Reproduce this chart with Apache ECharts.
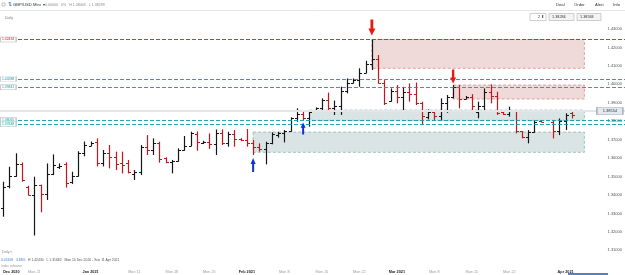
<!DOCTYPE html>
<html><head><meta charset="utf-8">
<script src="https://cdn.jsdelivr.net/npm/echarts@6/dist/echarts.min.js"></script>
<style>html,body{margin:0;padding:0;background:#fff;}#c{width:625px;height:275px;}</style>
</head><body><div id="c"></div>
<script>
// ---- data ----
const dates = ['2020-12-15','2020-12-16','2020-12-17','2020-12-18','2020-12-20','2020-12-21','2020-12-22','2020-12-23','2020-12-24','2020-12-27',
'2020-12-28','2020-12-29','2020-12-30','2020-12-31','2021-01-03','2021-01-04','2021-01-05','2021-01-06','2021-01-07','2021-01-08',
'2021-01-10','2021-01-11','2021-01-12','2021-01-13','2021-01-14','2021-01-15','2021-01-17','2021-01-18','2021-01-19','2021-01-20',
'2021-01-21','2021-01-22','2021-01-24','2021-01-25','2021-01-26','2021-01-27','2021-01-28','2021-01-29','2021-01-31','2021-02-01',
'2021-02-02','2021-02-03','2021-02-04','2021-02-05','2021-02-07','2021-02-08','2021-02-09','2021-02-10','2021-02-11','2021-02-12',
'2021-02-14','2021-02-15','2021-02-16','2021-02-17','2021-02-18','2021-02-19','2021-02-21','2021-02-22','2021-02-23','2021-02-24',
'2021-02-25','2021-02-26','2021-02-28','2021-03-01','2021-03-02','2021-03-03','2021-03-04','2021-03-05','2021-03-07','2021-03-08',
'2021-03-09','2021-03-10','2021-03-11','2021-03-12','2021-03-14','2021-03-15','2021-03-16','2021-03-17','2021-03-18','2021-03-19',
'2021-03-21','2021-03-22','2021-03-23','2021-03-24','2021-03-25','2021-03-26','2021-03-28','2021-03-29','2021-03-30','2021-03-31',
'2021-04-01','2021-04-02'];
const opens = [1.3327,1.3449,1.3503,1.3570,1.3445,1.3402,1.3452,1.3404,1.3514,1.3550,
1.3568,1.3468,1.3505,1.3628,1.3668,1.3685,1.3571,1.3626,1.3605,1.3571,
1.3575,1.3512,1.3525,1.3662,1.3646,1.3684,1.3598,1.3580,1.3585,1.3644,
1.3668,1.3730,1.3684,1.3688,1.3676,1.3735,1.3680,1.3730,1.3705,1.3700,
1.3680,1.3660,1.3650,1.3680,1.3725,1.3735,1.3745,1.3815,1.3840,1.3815,
1.3855,1.3870,1.3915,1.3870,1.3880,1.3965,1.4010,1.4025,1.4060,1.4110,
1.4140,1.4005,1.3910,1.3965,1.3930,1.3960,1.3945,1.3900,1.3825,1.3850,
1.3830,1.3900,1.3930,1.3985,1.3922,1.3930,1.3850,1.3885,1.3960,1.3935,
1.3848,1.3838,1.3860,1.3745,1.3715,1.3740,1.3800,null,1.3795,1.3745,
1.3800,1.3845];
const highs = [1.3472,1.3553,1.3626,1.3576,1.3450,1.3499,1.3456,1.3571,1.3620,1.3571,
1.3577,1.3526,1.3637,1.3690,1.3690,1.3707,1.3644,1.3671,1.3635,1.3635,
1.3590,1.3535,1.3671,1.3725,1.3707,1.3689,1.3604,1.3590,1.3653,1.3720,
1.3743,1.3745,1.3694,1.3734,1.3755,1.3756,1.3743,1.3752,1.3708,1.3758,
1.3698,1.3680,1.3689,1.3740,1.3743,1.3752,1.3821,1.3870,1.3861,1.3861,
1.3875,1.3924,1.3955,1.3912,1.3987,1.4032,1.4032,1.4087,1.4128,1.4243,
1.4159,1.4023,1.3978,1.3996,1.3987,1.4005,1.4010,1.3906,1.3864,1.3861,
1.3924,1.3942,1.3996,1.3996,1.3937,1.3947,1.3906,1.3978,1.4000,1.3960,
1.3850,1.3879,1.3861,1.3747,1.3752,1.3806,1.3806,null,1.3806,1.3815,
1.3843,1.3855];
const lows = [1.3282,1.3436,1.3499,1.3472,1.3398,1.3180,1.3306,1.3373,1.3508,1.3541,
1.3440,1.3460,1.3500,1.3610,1.3665,1.3555,1.3555,1.3544,1.3535,1.3517,
1.3517,1.3481,1.3508,1.3617,1.3617,1.3575,1.3572,1.3517,1.3581,1.3640,
1.3665,1.3640,1.3676,1.3650,1.3617,1.3671,1.3662,1.3662,1.3692,1.3662,
1.3617,1.3635,1.3566,1.3675,1.3711,1.3685,1.3743,1.3797,1.3806,1.3770,
1.3852,1.3861,1.3861,1.3834,1.3834,1.3951,1.4005,1.3987,1.4060,1.4078,
1.4005,1.3888,1.3906,1.3897,1.3861,1.3906,1.3888,1.3779,1.3810,1.3807,
1.3807,1.3846,1.3924,1.3870,1.3919,1.3861,1.3816,1.3861,1.3897,1.3834,
1.3834,1.3825,1.3734,1.3707,1.3680,1.3738,1.3794,null,1.3707,1.3725,
1.3752,1.3815];
const closes = [1.3445,1.3503,1.3566,1.3481,1.3402,1.3452,1.3404,1.3514,1.3562,1.3556,
1.3467,1.3505,1.3628,1.3670,1.3680,1.3571,1.3626,1.3605,1.3570,1.3560,
1.3525,1.3525,1.3662,1.3646,1.3684,1.3593,1.3580,1.3585,1.3644,1.3668,
1.3735,1.3690,1.3688,1.3676,1.3735,1.3680,1.3730,1.3705,1.3700,1.3680,
1.3660,1.3650,1.3680,1.3730,1.3735,1.3745,1.3815,1.3840,1.3815,1.3850,
1.3870,1.3915,1.3870,1.3880,1.3965,1.4010,1.4025,1.4060,1.4110,1.4140,
1.4010,1.3897,1.3965,1.3930,1.3960,1.3945,1.3897,1.3830,1.3850,1.3830,
1.3900,1.3930,1.3985,1.3920,1.3930,1.3880,1.3885,1.3960,1.3935,1.3845,
1.3838,1.3860,1.3745,1.3715,1.3740,1.3795,1.3797,null,1.3745,1.3800,
1.3835,1.3835];
const xTickIdx  = [0,5,14,21,27,33,39,45,51,57,63,69,75,81,90];
const xTickText = ['Dec 2020','Mon 21','Jan 2021','Mon 11','Mon 18','Mon 25','Feb 2021','Mon 8','Mon 15','Mon 22','Mar 2021','Mon 8','Mon 15','Mon 22','Apr 2021'];
const yMin = 1.30, yMax = 1.4322, yStep = 0.01;
const levelPrices = [1.42434, 1.40288, 1.39841, 1.38065, 1.37848];
const levelKind   = ['red','teal','teal','teal','teal'];
const lastPrice = 1.38554;
const zoneStart  = [59, 72, 49, 40];
const zoneEnd    = [93, 93, 93, 93];
const zoneTop    = [1.42434, 1.39963, 1.38607, 1.37413];
const zoneBottom = [1.40870, 1.39204, 1.38049, 1.36313];
const zoneKind   = ['red','red','grey','grey'];
const arrowIdx = [59, 72, 40, 48];
const arrowDir = ['down','down','up','up'];

// ---- build ----
const N = 100;
const cats = dates.slice();
for (let k = dates.length; k < N; k++) cats.push('pad' + k);
const ohlc = dates.map((d, i) => opens[i] == null ? [i, '-', '-', '-', '-'] : [i, opens[i], highs[i], lows[i], closes[i]]);

const RED = '#c8141c', UP = '#151515';
const lineColor = {red: '#e0141e', teal: '#0f9aa0'};
const zoneStyle = {
  red:  {color: 'rgba(200,120,120,0.28)', borderColor: 'rgba(205,95,95,0.7)', borderWidth: 0.8, borderType: [3,2]},
  grey: {color: 'rgba(170,190,190,0.42)', borderColor: 'rgba(110,160,160,0.75)', borderWidth: 0.8, borderType: [3,2]}
};
const FONT = 'Liberation Sans, Arial, sans-serif';

function renderItem(params, api) {
  const i = api.value(0);
  const o = api.value(1), h = api.value(2), l = api.value(3), c = api.value(4);
  if (isNaN(o)) return null;
  const pH = api.coord([i, h]), pL = api.coord([i, l]), pO = api.coord([i, o]), pC = api.coord([i, c]);
  const x = Math.round(pH[0]) + 0.5;
  const color = c >= o ? UP : RED;
  const yo = Math.round(pO[1]) + 0.5, yc = Math.round(pC[1]) + 0.5;
  return {type: 'group', children: [
    {type: 'line', shape: {x1: x, y1: pH[1], x2: x, y2: pL[1]}, style: {stroke: color, lineWidth: 1.2}},
    {type: 'line', shape: {x1: x - 2.5, y1: yo, x2: x, y2: yo}, style: {stroke: color, lineWidth: 1}},
    {type: 'line', shape: {x1: x, y1: yc, x2: x + 2.5, y2: yc}, style: {stroke: color, lineWidth: 1}}
  ]};
}

const downArrow = 'path://M3,0L7,0L7,9L10,9L5,16L0,9L3,9Z';
const upArrow = 'path://M5,0L10,7L7,7L7,16L3,16L3,7L0,7Z';
const arrowSize = [[7,16],[6,14],[5,14],[5,12]];
const arrowOff = [-12, -8.5, 10, 8.5];

const markPoints = [];
levelPrices.forEach((p, k) => markPoints.push({
  coord: [0, p], symbol: 'rect', symbolSize: [16, 5], symbolOffset: [5, 0],
  itemStyle: {color: '#fff', borderColor: '#b5b5b5', borderWidth: 0.6},
  label: {show: true, position: 'inside', formatter: p.toFixed(5), fontSize: 3.4, fontFamily: FONT, color: lineColor[levelKind[k]]}
}));
markPoints.push({
  coord: [N - 1, lastPrice], symbol: 'rect', symbolSize: [26, 7], symbolOffset: [-12, 0],
  itemStyle: {color: '#e4e9ef', borderColor: '#98a6b6', borderWidth: 0.7},
  label: {show: true, position: 'inside', formatter: lastPrice.toFixed(5), fontSize: 4, fontFamily: FONT, color: '#2b3b50'}
});
arrowIdx.forEach((i, k) => markPoints.push({
  coord: [i, arrowDir[k] === 'down' ? highs[i] : lows[i]],
  symbol: arrowDir[k] === 'down' ? downArrow : upArrow,
  symbolSize: arrowSize[k], symbolOffset: [0, arrowOff[k]],
  itemStyle: {color: arrowDir[k] === 'down' ? '#e8190f' : '#1230e0'},
  label: {show: false}
}));

const chart = echarts.init(document.getElementById('c'), null, {renderer: 'canvas'});
chart.setOption({
  backgroundColor: '#fff',
  animation: false,
  textStyle: {fontFamily: FONT},
  grid: {left: 0, right: 0, top: 25, bottom: 6.3, containLabel: false, outerBoundsMode: 'none'},
  xAxis: {
    type: 'category', data: cats, boundaryGap: true,
    axisLine: {show: false}, axisTick: {show: false}, splitLine: {show: false},
    axisLabel: {
      interval: (idx) => xTickIdx.indexOf(idx) >= 0,
      formatter: (v, idx) => {
        const k = xTickIdx.indexOf(idx);
        if (k < 0) return '';
        const t = xTickText[k];
        return t.indexOf('Mon') === 0 ? '{d|' + t + '}' : '{m|' + t + '}';
      },
      rich: {
        d: {fontSize: 3.8, color: '#9a9a9a', fontFamily: FONT},
        m: {fontSize: 3.8, color: '#222', fontWeight: 'bold', fontFamily: FONT}
      },
      margin: 1, hideOverlap: false, alignMinLabel: 'left'
    }
  },
  yAxis: {
    type: 'value', position: 'right', min: yMin, max: yMax, interval: yStep,
    axisLine: {show: false}, axisTick: {show: false}, splitLine: {show: false},
    axisLabel: {inside: true, margin: 3, fontSize: 4, color: '#555', fontFamily: FONT,
      formatter: (v) => v.toFixed(5), showMinLabel: false, showMaxLabel: false}
  },
  series: [
    {
      type: 'line', data: [], z: 1, silent: true,
      markArea: {silent: true, data: zoneStart.map((s, k) => [
        {xAxis: s, yAxis: zoneTop[k], itemStyle: zoneStyle[zoneKind[k]]},
        {xAxis: zoneEnd[k], yAxis: zoneBottom[k]}
      ])},
      markLine: {silent: true, precision: 5, symbol: ['none','none'], label: {show: false}, animation: false,
        data: [{yAxis: lastPrice, lineStyle: {color: '#e2e6ea', type: 'solid', width: 2}}]}
    },
    {
      type: 'custom', name: 'GBP/USD', renderItem: renderItem, data: ohlc, z: 3,
      dimensions: ['i','open','high','low','close'],
      encode: {x: 0, y: [1,2,3,4]},
      markLine: {silent: true, precision: 5, symbol: ['none','none'], label: {show: false}, animation: false,
        data: levelPrices.map((p, k) => ({yAxis: p, lineStyle: {color: lineColor[levelKind[k]], type: [4,2], width: 1.1, opacity: 0.9}}))},
      markPoint: {silent: true, animation: false, data: markPoints}
    }
  ],
  graphic: [
    {type: 'line', shape: {x1: 0, y1: 10.5, x2: 625, y2: 10.5}, style: {stroke: '#e6e6e6', lineWidth: 1}, silent: true},
    {type: 'rect', shape: {x: 2, y: 3, width: 3, height: 3}, style: {fill: 'none', stroke: '#999', lineWidth: 0.6}},
    {type: 'text', left: 8, top: 2.4, style: {text: '⇅', fontSize: 4.5, fill: '#2a6fb5', fontFamily: FONT}},
    {type: 'text', left: 13, top: 2.6, style: {text: 'GBP/USD Mini  ▾', fontSize: 4.2, fill: '#1e2a3a', fontFamily: FONT}},
    {type: 'text', left: 45, top: 2.8, style: {text: '0.00000   0%   H 1.38405   L 1.38299', fontSize: 3.6, fill: '#8a8a8a', fontFamily: FONT}},
    {type: 'text', left: 556, top: 2.6, style: {text: 'Deal', fontSize: 4.2, fill: '#333', fontFamily: FONT}},
    {type: 'text', left: 574, top: 2.6, style: {text: 'Order', fontSize: 4.2, fill: '#333', fontFamily: FONT}},
    {type: 'text', left: 595, top: 2.6, style: {text: 'Alert', fontSize: 4.2, fill: '#333', fontFamily: FONT}},
    {type: 'text', left: 613, top: 2.6, style: {text: 'Info', fontSize: 4.2, fill: '#333', fontFamily: FONT}},
    {type: 'text', left: 5, top: 15.5, style: {text: 'Daily', fontSize: 3.6, fill: '#777', fontFamily: FONT}},
    {type: 'rect', shape: {x: 530, y: 13.5, width: 16, height: 7}, style: {fill: '#fff', stroke: '#b0b0b0', lineWidth: 0.6}},
    {type: 'text', left: 538, top: 15, style: {text: '2 ⬍', fontSize: 3.8, fill: '#333', fontFamily: FONT}},
    {type: 'rect', shape: {x: 549, y: 13.5, width: 25, height: 7}, style: {fill: '#f4f4f4', stroke: '#b0b0b0', lineWidth: 0.6}},
    {type: 'text', left: 552, top: 15, style: {text: '1.38284', fontSize: 3.8, fill: '#333', fontFamily: FONT}},
    {type: 'rect', shape: {x: 577, y: 13.5, width: 24, height: 7}, style: {fill: '#f4f4f4', stroke: '#b0b0b0', lineWidth: 0.6}},
    {type: 'text', left: 580, top: 15, style: {text: '1.38584', fontSize: 3.8, fill: '#333', fontFamily: FONT}},
    {type: 'text', left: 2, top: 251, style: {text: 'Daily ✕', fontSize: 3.4, fill: '#888', fontFamily: FONT}},
    {type: 'text', left: 1, top: 258.5, style: {text: '0.05169', fontSize: 3.4, fill: '#3b7dd8', fontFamily: FONT}},
    {type: 'text', left: 16, top: 258.5, style: {text: '3.86%', fontSize: 3.4, fill: '#3b7dd8', fontFamily: FONT}},
    {type: 'text', left: 28, top: 258.5, style: {text: 'H 1.42430   L 1.31682   Mon 14 Dec 2020 - Sun 11 Apr 2021', fontSize: 3.4, fill: '#555', fontFamily: FONT}},
    {type: 'text', left: 1, top: 264.5, style: {text: 'Index indicator', fontSize: 3.2, fill: '#999', fontFamily: FONT}},
    {type: 'rect', shape: {x: 568, y: 273.2, width: 40, height: 1.6}, style: {fill: '#1f56a8'}}
  ]
});
</script>
</body></html>
